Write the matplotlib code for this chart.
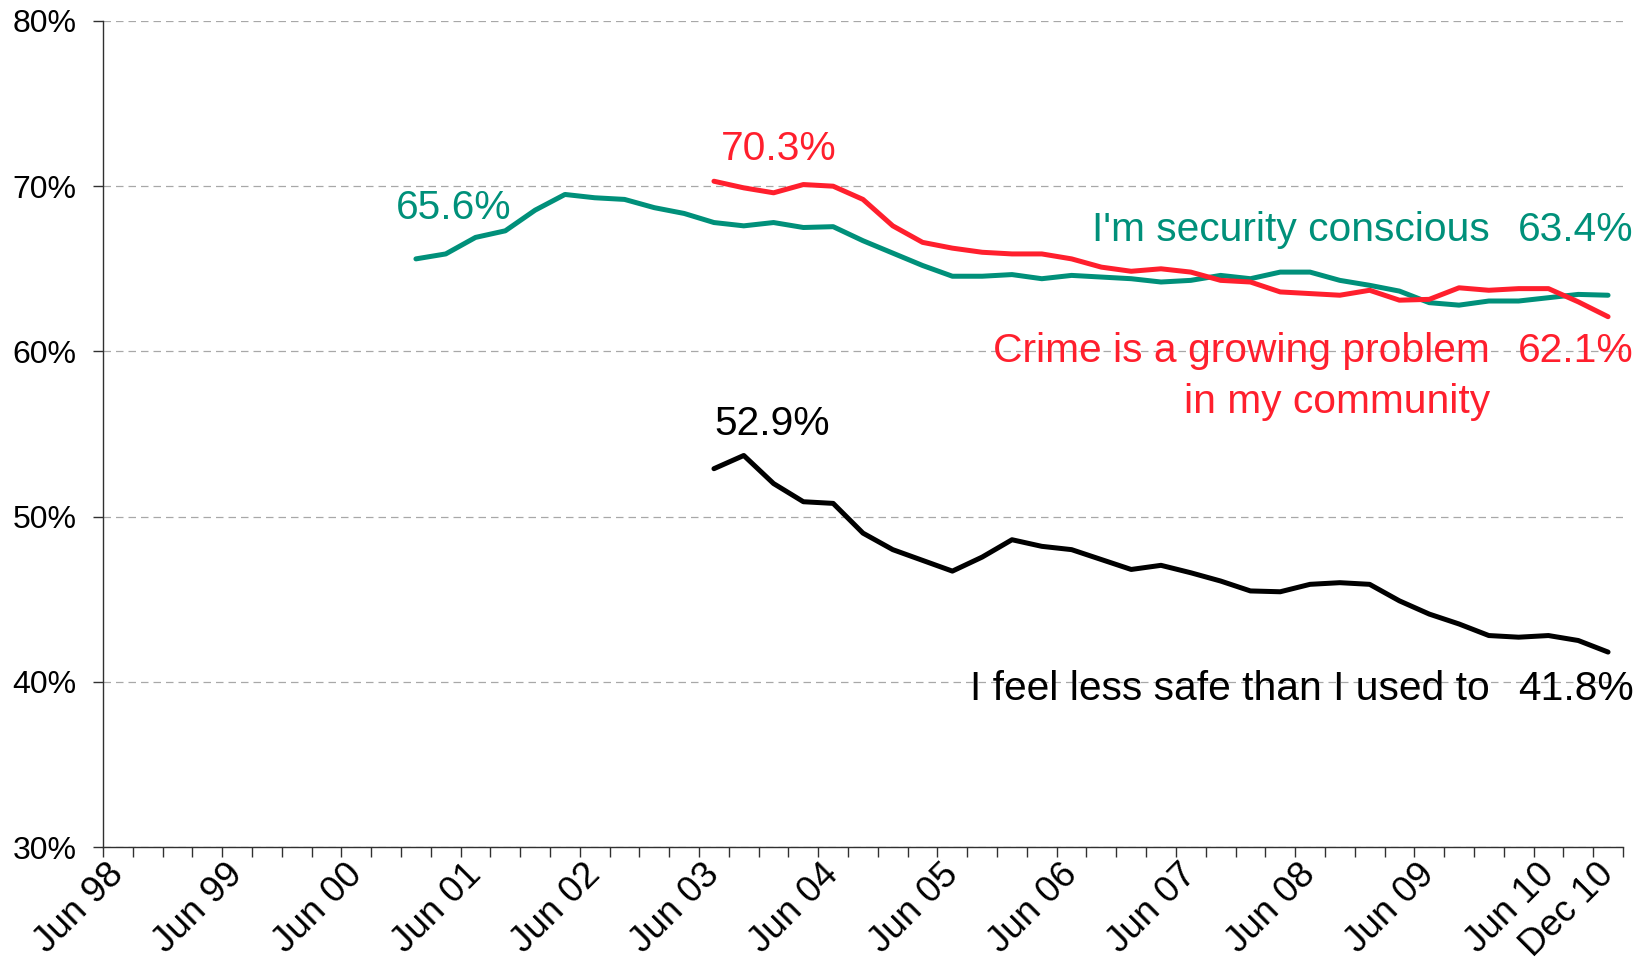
#!/usr/bin/python3

# Quarterly survey tracking: security consciousness, crime concern
# and feeling less safe, Jun 98 - Dec 10.  Writes out.png.

import matplotlib.pyplot as plt
import matplotlib.transforms as mtransforms

# Quarter labels, Jun 98 .. Dec 10 (51 quarters)
months = ["Mar", "Jun", "Sep", "Dec"]
quarters = []
for year in range(1998, 2011):
    for m in months:
        quarters.append("%s %02d" % (m, year % 100))
quarters = quarters[1:]          # start at Jun 98, end at Dec 10

# "I'm security conscious" - starts Dec 00
security_start = 10
security = [65.6, 65.9, 66.9, 67.3, 68.55, 69.5, 69.3, 69.2, 68.7, 68.35,
            67.8, 67.6, 67.8, 67.5, 67.55, 66.7, 65.95, 65.2, 64.55, 64.55,
            64.65, 64.4, 64.6, 64.5, 64.4, 64.2, 64.3, 64.6, 64.4, 64.8,
            64.8, 64.3, 64.0, 63.65, 62.95, 62.8, 63.05, 63.05, 63.25, 63.45,
            63.4]

# "Crime is a growing problem in my community" - starts Jun 03
crime_start = 20
crime = [70.3, 69.9, 69.6, 70.1, 70.0, 69.2, 67.6, 66.6, 66.25, 66.0,
         65.9, 65.9, 65.6, 65.1, 64.85, 65.0, 64.8, 64.3, 64.2, 63.6,
         63.5, 63.4, 63.7, 63.1, 63.15, 63.85, 63.7, 63.8, 63.8, 63.0,
         62.1]

# "I feel less safe than I used to" - starts Jun 03
unsafe_start = 20
unsafe = [52.9, 53.7, 52.0, 50.9, 50.8, 49.0, 48.0, 47.35, 46.7, 47.55,
          48.6, 48.2, 48.0, 47.4, 46.8, 47.05, 46.6, 46.1, 45.5, 45.45,
          45.9, 46.0, 45.9, 44.9, 44.1, 43.5, 42.8, 42.7, 42.8, 42.5,
          41.8]

# which quarters get a label on the axis
label_idx = [0, 4, 8, 12, 16, 20, 24, 28, 32, 36, 40, 44, 48, 50]

green = "#00907A"
red = "#FF1F2D"
black = "#000000"

plt.rcParams['font.family'] = ['Liberation Sans', 'DejaVu Sans']

fig = plt.figure(figsize=(16.48, 9.72), dpi=100)
ax = fig.add_axes([0.0625, 0.1286, 0.9223, 0.8498])

def xs(start, values):
    # category centres sit between the tick marks
    return [start + i + 0.5 for i in range(len(values))]

line_kw = dict(lw=3.6, solid_capstyle='round', solid_joinstyle='round')
ax.plot(xs(security_start, security), security, color=green, zorder=3, **line_kw)
ax.plot(xs(crime_start, crime), crime, color=red, zorder=4, **line_kw)
ax.plot(xs(unsafe_start, unsafe), unsafe, color=black, zorder=3, **line_kw)

ax.set_xlim(0, len(quarters))
ax.set_ylim(30, 80)

# y axis
ax.set_yticks(range(30, 81, 10))
ax.set_yticklabels(["%d%%" % v for v in range(30, 81, 10)])
ax.tick_params(axis='y', direction='out', length=7, width=1, pad=12,
               labelsize=23, colors='#303030', labelcolor='black')
ax.yaxis.grid(True, linestyle=(0, (6, 4)), color='#a8a8a8', lw=0.9)
ax.set_axisbelow(True)

# x axis: tick marks on category boundaries, labels on selected centres
ax.set_xticks(range(0, len(quarters) + 1))
ax.set_xticklabels([])
ax.tick_params(axis='x', which='major', direction='out', length=7, width=1,
               colors='#303030')
ax.set_xticks([i + 0.5 for i in label_idx], minor=True)
ax.set_xticklabels([quarters[i] for i in label_idx], minor=True)
ax.tick_params(axis='x', which='minor', length=0, pad=7, labelsize=26.5)
shift = mtransforms.ScaledTranslation(-12 / 100, 0, fig.dpi_scale_trans)
for lab in ax.get_xticklabels(minor=True):
    lab.set_rotation(45)
    lab.set_ha('right')
    lab.set_va('top')
    lab.set_rotation_mode('anchor')
    lab.set_transform(lab.get_transform() + shift)

for side in ['top', 'right']:
    ax.spines[side].set_visible(False)
for side in ['left', 'bottom']:
    ax.spines[side].set_color('#303030')
    ax.spines[side].set_linewidth(1)

# series annotations
fs = 29.3
ax.text(9.83, 68.0, "%.1f%%" % security[0], color=green, fontsize=fs,
        ha='left', va='baseline')
ax.text(20.74, 71.6, "%.1f%%" % crime[0], color=red, fontsize=fs,
        ha='left', va='baseline')
ax.text(20.5, 54.95, "%.1f%%" % unsafe[0], color=black, fontsize=fs,
        ha='left', va='baseline')

name_x = 46.54
value_x = 51.35
ax.text(name_x, 66.68, "I'm security conscious", color=green, fontsize=fs,
        ha='right', va='baseline', clip_on=False)
ax.text(value_x, 66.68, "%.1f%%" % security[-1], color=green, fontsize=fs,
        ha='right', va='baseline', clip_on=False)
ax.text(name_x, 59.36, "Crime is a growing problem", color=red, fontsize=fs,
        ha='right', va='baseline', clip_on=False)
ax.text(name_x, 56.27, "in my community", color=red, fontsize=fs,
        ha='right', va='baseline', clip_on=False)
ax.text(value_x, 59.36, "%.1f%%" % crime[-1], color=red, fontsize=fs,
        ha='right', va='baseline', clip_on=False)
ax.text(name_x, 38.9, "I feel less safe than I used to", color=black,
        fontsize=fs, ha='right', va='baseline', clip_on=False)
ax.text(value_x, 38.9, "%.1f%%" % unsafe[-1], color=black, fontsize=fs,
        ha='right', va='baseline', clip_on=False)

fig.savefig("out.png", dpi=100)
